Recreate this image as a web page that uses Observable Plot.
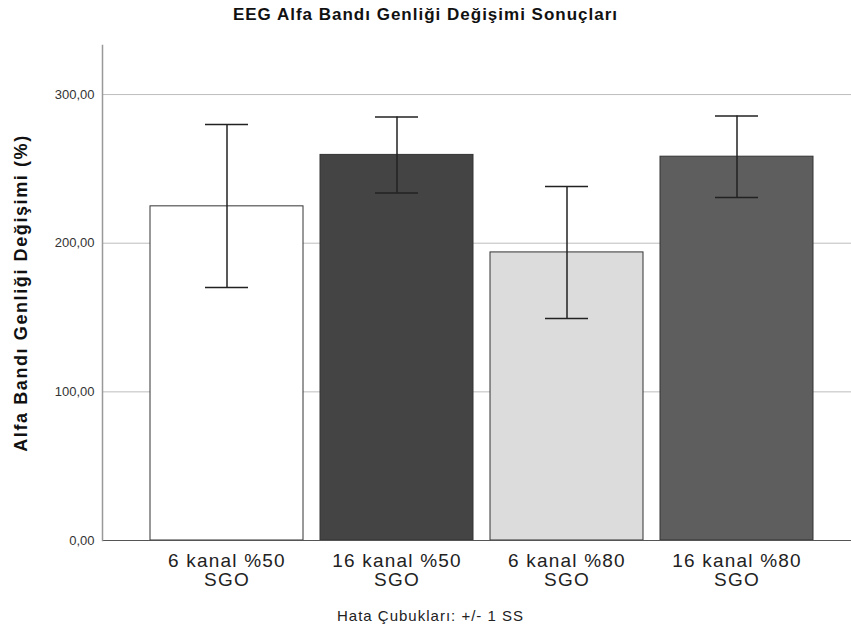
<!DOCTYPE html>
<html>
<head>
<meta charset="utf-8">
<script src="https://cdn.jsdelivr.net/npm/d3@7"></script>
<script src="https://cdn.jsdelivr.net/npm/@observablehq/plot@0.6"></script>
<style>
  html, body { margin: 0; padding: 0; background: #fff; }
  body { width: 851px; font-family: "Liberation Sans", Arial, sans-serif; }
  #title { height: 30px; line-height: 30px; text-align: center; font-weight: bold; font-size: 17px; letter-spacing: 1px; color: #111; }
  #foot { text-align: center; font-size: 15px; letter-spacing: 1px; color: #222; margin-top: 3px; line-height: 18px; padding-left: 10px; }
  svg { display: block; }
</style>
</head>
<body>
<div id="title">EEG Alfa Bandı Genliği Değişimi Sonuçları</div>
<div id="chart"></div>
<div id="foot">Hata Çubukları: +/- 1 SS</div>
<script>
const categories = ["6 kanal %50\nSGO", "16 kanal %50\nSGO", "6 kanal %80\nSGO", "16 kanal %80\nSGO"];
const means = [224.8, 259.4, 193.8, 258.2];
const lower = [170.2, 233.7, 149.3, 230.7];
const upper = [279.9, 284.9, 238.1, 285.6];
const fills = ["#ffffff", "#444444", "#dcdcdc", "#5e5e5e"];
const yTicks = [0, 100, 200, 300];

const data = categories.map((c, i) => ({cat: c, mean: means[i], lo: lower[i], hi: upper[i], fill: fills[i]}));

const chart = Plot.plot({
  width: 851,
  height: 574,
  marginTop: 15,
  marginBottom: 64,
  marginLeft: 102,
  marginRight: 0,
  style: {fontFamily: "'Liberation Sans', Arial, sans-serif", background: "#fff"},
  x: {domain: categories, range: [140.5, 822.5], paddingInner: 0.1, paddingOuter: 0.05, axis: null},
  y: {domain: [0, 333], axis: null},
  marks: [
    Plot.gridY(yTicks.filter(d => d > 0), {stroke: "#bdbdbd", strokeOpacity: 1, strokeWidth: 1}),
    Plot.barY(data, {x: "cat", y: "mean", fill: "fill", stroke: "#333", strokeWidth: 1}),
    Plot.ruleX(data, {x: "cat", y1: "lo", y2: "hi", stroke: "#222", strokeWidth: 1.5}),
    Plot.tickY(data, {x: "cat", y: "lo", stroke: "#222", strokeWidth: 1.5, insetLeft: 55, insetRight: 55}),
    Plot.tickY(data, {x: "cat", y: "hi", stroke: "#222", strokeWidth: 1.5, insetLeft: 55, insetRight: 55}),
    Plot.ruleY([0], {stroke: "#555", strokeWidth: 1.2}),
    Plot.frame({anchor: "left", stroke: "#999", strokeWidth: 1.5}),
    Plot.axisY({ticks: yTicks, tickSize: 0, tickPadding: 8, fontSize: 13, color: "#333",
      tickFormat: d => d3.format(".2f")(d).replace(".", ","),
      label: "Alfa Bandı Genliği Değişimi (%)", labelAnchor: "center", labelArrow: "none", labelOffset: 88}),
    Plot.axisX({tickSize: 0, tickPadding: 13, fontSize: 19, lineHeight: 1.0, color: "#222", label: null})
  ]
});
chart.querySelectorAll("g[aria-label='y-axis label']").forEach(el => {
  el.setAttribute("font-weight", "bold");
  el.setAttribute("font-size", "18");
  el.setAttribute("letter-spacing", "1.6");
  el.setAttribute("fill", "#111");
});
chart.querySelectorAll("g[aria-label='x-axis tick label']").forEach(el => {
  el.setAttribute("letter-spacing", "1.2");
});
document.getElementById("chart").appendChild(chart);
</script>
</body>
</html>
